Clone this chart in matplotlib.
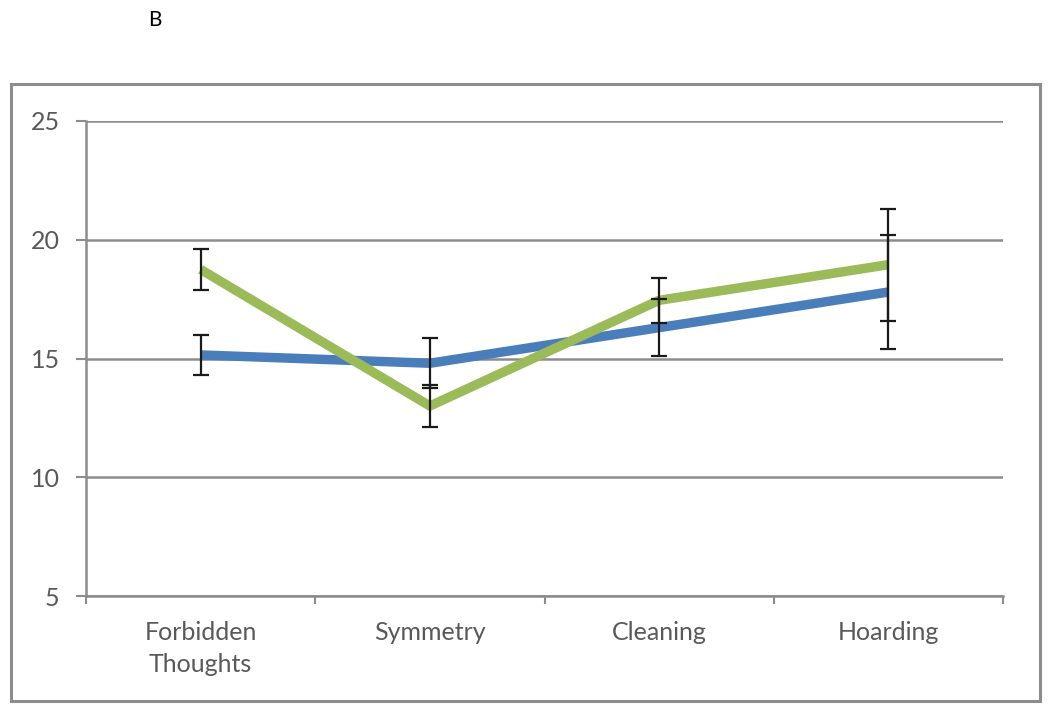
import matplotlib
matplotlib.use("Agg")
import matplotlib.pyplot as plt
from matplotlib.patches import Rectangle
import numpy as np

categories = ["Forbidden\nThoughts", "Symmetry", "Cleaning", "Hoarding"]
blue_vals = [15.15, 14.8, 16.3, 17.8]
blue_err = [0.83, 1.05, 1.2, 2.4]
green_vals = [18.75, 13.0, 17.45, 18.95]
green_err = [0.85, 0.9, 0.95, 2.35]
yticks = [5, 10, 15, 20, 25]

plt.rcParams['font.family'] = ['Lato', 'DejaVu Sans']

fig = plt.figure(figsize=(10.5, 7.05), dpi=100)
ax = fig.add_axes([86/1050, 1-596/705, (1003-86)/1050, (596-121)/705])

x = np.arange(len(categories))
ax.plot(x, blue_vals, color="#4A7EBB", lw=6.8, solid_capstyle="butt", zorder=3)
ax.plot(x, green_vals, color="#9BBB59", lw=6.8, solid_capstyle="butt", zorder=4)
ax.errorbar(x, blue_vals, yerr=blue_err, fmt="none", ecolor="#1a1a1a",
            elinewidth=1.6, capsize=6, capthick=1.6, zorder=5)
ax.errorbar(x, green_vals, yerr=green_err, fmt="none", ecolor="#1a1a1a",
            elinewidth=1.6, capsize=6, capthick=1.6, zorder=5)

ax.set_xlim(-0.5, len(categories) - 0.5)
ax.set_ylim(5, 25)
ax.set_yticks(yticks)
ax.set_yticklabels([str(t) for t in yticks], fontsize=18, color="#595959")
ax.yaxis.grid(True, color="#8c8c8c", lw=1.8)
ax.set_axisbelow(True)

ax.set_xticks(x)
ax.set_xticklabels(categories, fontsize=18, color="#595959", linespacing=1.5)
ax.tick_params(axis="x", length=0, pad=18)
ax.set_xticks(np.arange(-0.5, len(categories)), minor=True)
ax.tick_params(axis="x", which="minor", length=6, color="#8c8c8c", width=1.5)
ax.tick_params(axis="y", length=7, color="#8c8c8c", width=1.5, pad=12)

for s in ["top", "right"]:
    ax.spines[s].set_visible(False)
for s in ["left", "bottom"]:
    ax.spines[s].set_color("#8c8c8c")
    ax.spines[s].set_linewidth(1.8)

fig.patches.append(Rectangle((11/1050, 1-701/705), (1040-11)/1050, (701-84)/705,
                             transform=fig.transFigure, fill=False,
                             edgecolor="#8c8c8c", lw=2.2))
fig.text(155/1050, 1-20/705, "B", fontsize=15, ha="center", va="center", color="black")

fig.savefig("out.png", dpi=100)
